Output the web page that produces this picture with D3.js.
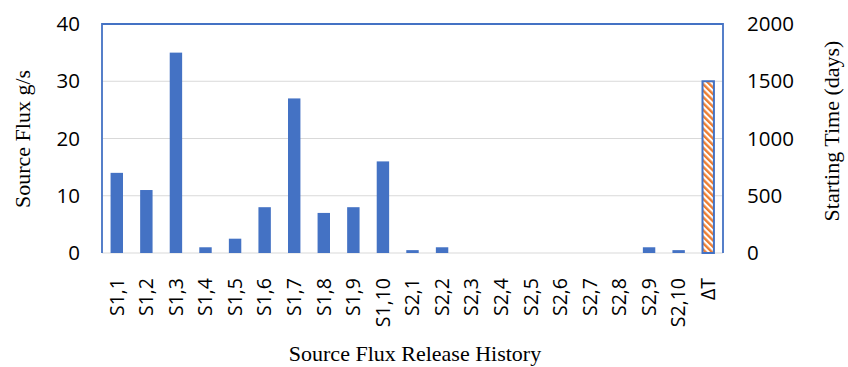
<!DOCTYPE html>
<html><head><meta charset="utf-8">
<script src="https://cdn.jsdelivr.net/npm/d3@7"></script>
<style>body{margin:0;background:#fff}</style>
</head><body>
<svg id="c" width="848" height="367"></svg>
<script>
const categories = ["S1,1","S1,2","S1,3","S1,4","S1,5","S1,6","S1,7","S1,8","S1,9","S1,10","S2,1","S2,2","S2,3","S2,4","S2,5","S2,6","S2,7","S2,8","S2,9","S2,10","ΔT"];
const fluxValues = [14,11,35,1,2.5,8,27,7,8,16,0.5,1,0,0,0,0,0,0,1,0.5,null];
const startingTime = [null,null,null,null,null,null,null,null,null,null,null,null,null,null,null,null,null,null,null,null,1500];
const leftTicks = [0,10,20,30,40];
const rightTicks = [0,500,1000,1500,2000];

const svg = d3.select("#c");
const L = 102, R = 723, T = 24, B = 253;
const x = d3.scaleBand().domain(categories).range([L, R]).paddingInner(0.58).paddingOuter(0.29);
const yL = d3.scaleLinear().domain([0, 40]).range([B, T]);
const yR = d3.scaleLinear().domain([0, 2000]).range([B, T]);

const defs = svg.append("defs");
const pat = defs.append("pattern").attr("id","hatch").attr("patternUnits","userSpaceOnUse")
  .attr("width",4.5).attr("height",4.5).attr("patternTransform","rotate(-45)");
pat.append("rect").attr("width",4.5).attr("height",4.5).attr("fill","#fff");
pat.append("rect").attr("width",2.4).attr("height",4.5).attr("fill","#ED7D31");

// gridlines
svg.append("g").selectAll("line").data(leftTicks.filter(d=>d>0 && d<40)).join("line")
  .attr("x1",L).attr("x2",R).attr("y1",d=>yL(d)).attr("y2",d=>yL(d))
  .attr("stroke","#d9d9d9").attr("stroke-width",1.2);
// bottom axis line
svg.append("line").attr("x1",L).attr("x2",R).attr("y1",B).attr("y2",B).attr("stroke","#d9d9d9").attr("stroke-width",1.2);

// flux bars
svg.append("g").selectAll("rect").data(categories.map((c,i)=>({c,v:fluxValues[i]})).filter(d=>d.v!=null && d.v>0)).join("rect")
  .attr("x",d=>x(d.c)).attr("width",x.bandwidth())
  .attr("y",d=>yL(d.v)).attr("height",d=>yL(0)-yL(d.v)).attr("fill","#4472C4");

// starting time bar
svg.append("g").selectAll("rect").data(categories.map((c,i)=>({c,v:startingTime[i]})).filter(d=>d.v!=null)).join("rect")
  .attr("x",d=>x(d.c)+0.5).attr("width",x.bandwidth()-1)
  .attr("y",d=>yR(d.v)).attr("height",d=>yR(0)-yR(d.v))
  .attr("fill","url(#hatch)").attr("stroke","#4472C4").attr("stroke-width",2);

// plot border (left, top, right)
svg.append("path").attr("d",`M${L},${B}V${T}H${R}V${B}`).attr("fill","none").attr("stroke","#4472C4").attr("stroke-width",1.8);

const tickFont = "'Open Sans', sans-serif";
// left axis
const gl = svg.append("g").attr("transform",`translate(${L},0)`)
  .call(d3.axisLeft(yL).tickValues(leftTicks).tickSize(0).tickPadding(22));
gl.select(".domain").remove();
gl.selectAll("text").attr("font-family",tickFont).attr("font-size",20.5).attr("fill","#000");
// right axis
const gr = svg.append("g").attr("transform",`translate(${R},0)`)
  .call(d3.axisRight(yR).tickValues(rightTicks).tickFormat(d3.format("d")).tickSize(0).tickPadding(24));
gr.select(".domain").remove();
gr.selectAll("text").attr("font-family",tickFont).attr("font-size",20.5).attr("fill","#000");
// bottom axis labels
const gb = svg.append("g").attr("transform",`translate(0,${B})`)
  .call(d3.axisBottom(x).tickSize(0));
gb.select(".domain").remove();
gb.selectAll("text").attr("font-family",tickFont).attr("font-size",19.5).attr("fill","#000")
  .attr("text-anchor","end").attr("dy","0.35em")
  .attr("transform","translate(0,25) rotate(-90)").attr("x",0).attr("y",0);

// axis titles
const serif = "'Liberation Serif', 'Times New Roman', serif";
svg.append("text").attr("transform","translate(30,139) rotate(-90)").attr("text-anchor","middle")
  .attr("font-family",serif).attr("font-size",22).text("Source Flux g/s");
svg.append("text").attr("transform","translate(839,131) rotate(-90)").attr("text-anchor","middle")
  .attr("font-family",serif).attr("font-size",22).text("Starting Time (days)");
svg.append("text").attr("x",415).attr("y",361).attr("text-anchor","middle")
  .attr("font-family",serif).attr("font-size",22).text("Source Flux Release History");
</script>
</body></html>
